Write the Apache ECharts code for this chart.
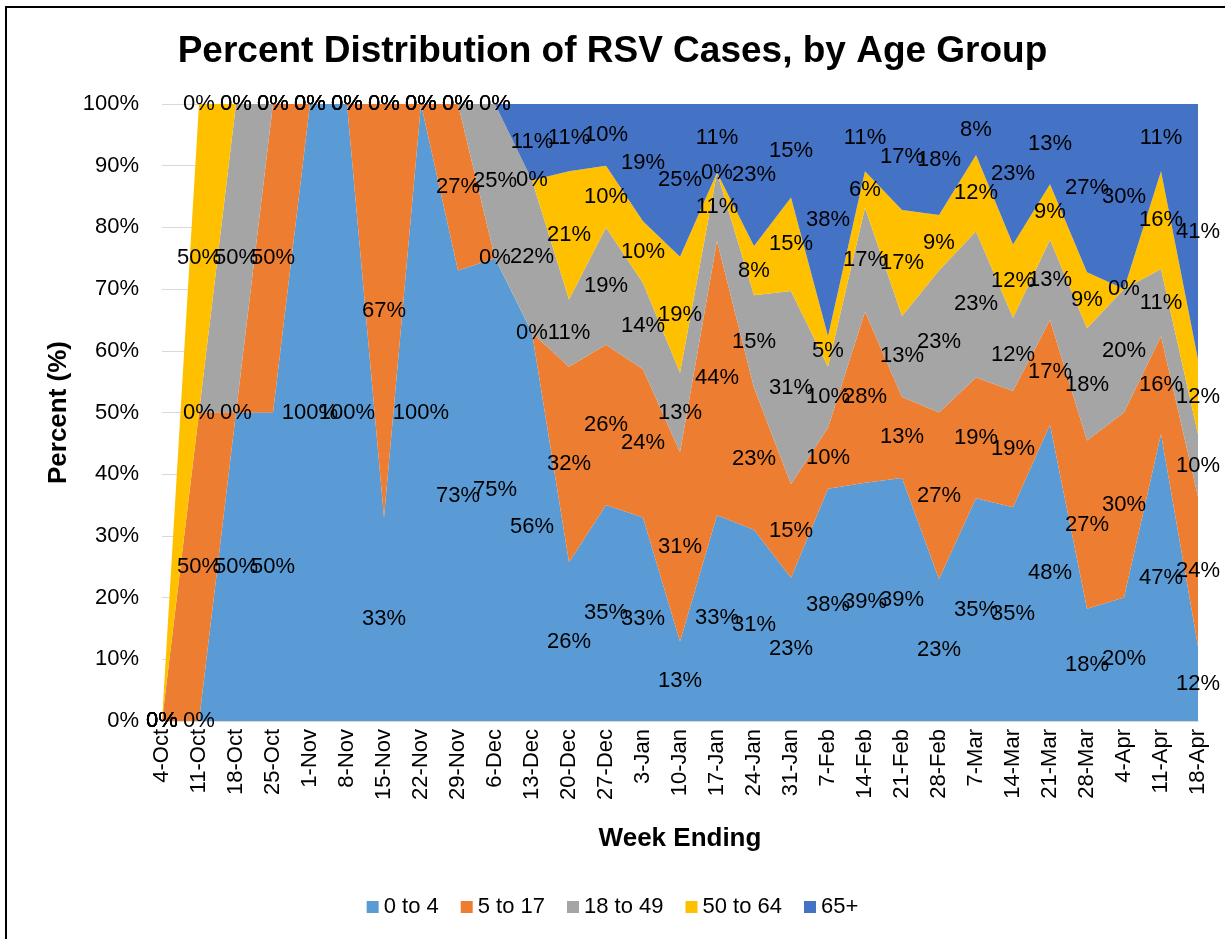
<!DOCTYPE html>
<html>
<head>
<meta charset="utf-8">
<script src="https://cdn.jsdelivr.net/npm/echarts@6/dist/echarts.min.js"></script>
<style>
html,body{margin:0;padding:0;background:#fff;}
#chart{width:1225px;height:939px;}
</style>
</head>
<body>
<div id="chart"></div>
<script>
// Week-ending categories
var categories = ['4-Oct','11-Oct','18-Oct','25-Oct','1-Nov','8-Nov','15-Nov','22-Nov','29-Nov','6-Dec','13-Dec','20-Dec','27-Dec','3-Jan','10-Jan','17-Jan','24-Jan','31-Jan','7-Feb','14-Feb','21-Feb','28-Feb','7-Mar','14-Mar','21-Mar','28-Mar','4-Apr','11-Apr','18-Apr'];

// Percent of cases per age group (as labelled)
var age0to4   = [0,0,50,50,100,100,33,100,73,75,56,26,35,33,13,33,31,23,38,39,39,23,35,35,48,18,20,47,12];
var age5to17  = [0,50,0,50,0,0,67,0,27,0,0,32,26,24,31,44,23,15,10,28,13,27,19,19,17,27,30,16,24];
var age18to49 = [0,0,50,0,0,0,0,0,0,25,22,11,19,14,13,11,15,31,10,17,13,23,23,12,13,18,20,11,10];
var age50to64 = [0,50,0,0,0,0,0,0,0,0,0,21,10,10,19,0,8,15,5,6,17,9,12,12,9,9,0,16,12];
var age65plus = [0,0,0,0,0,0,0,0,0,0,11,11,10,19,25,11,23,15,38,11,17,18,8,23,13,27,30,11,41];

var seriesNames = ['0 to 4','5 to 17','18 to 49','50 to 64','65+'];
var seriesColors = ['#5B9BD5','#ED7D31','#A5A5A5','#FFC000','#4472C4'];
var raw = [age0to4, age5to17, age18to49, age50to64, age65plus];

// 100% stacked: normalise each week's values to sum to 100
var norm = raw.map(function(){ return []; });
var mids = raw.map(function(){ return []; });
for (var i = 0; i < categories.length; i++) {
  var total = 0;
  for (var s = 0; s < raw.length; s++) total += raw[s][i];
  var cum = 0;
  for (var s2 = 0; s2 < raw.length; s2++) {
    var v = total > 0 ? raw[s2][i] / total * 100 : 0;
    norm[s2].push(v);
    mids[s2].push([i, cum + v / 2, raw[s2][i]]);
    cum += v;
  }
}

var FONT = "'Liberation Sans', Arial, sans-serif";
var series = [];
for (var k = 0; k < raw.length; k++) {
  series.push({
    name: seriesNames[k],
    type: 'line',
    stack: 'total',
    data: norm[k],
    symbol: 'none',
    showSymbol: false,
    lineStyle: { width: 0, color: seriesColors[k] },
    itemStyle: { color: seriesColors[k] },
    areaStyle: { color: seriesColors[k], opacity: 1 },
    emphasis: { disabled: true },
    z: 2
  });
}
for (var m = 0; m < raw.length; m++) {
  series.push({
    type: 'scatter',
    data: mids[m],
    symbolSize: 1,
    itemStyle: { color: 'rgba(0,0,0,0)' },
    silent: true,
    z: 5,
    label: {
      show: true,
      position: 'inside',
      color: '#000',
      opacity: 1,
      textBorderWidth: 0,
      fontFamily: FONT,
      fontSize: 22,
      formatter: function (p) { return p.data[2] + '%'; }
    }
  });
}

var chart = echarts.init(document.getElementById('chart'), null, { renderer: 'canvas' });
chart.setOption({
  backgroundColor: '#fff',
  animation: false,
  color: seriesColors,
  title: {
    text: 'Percent Distribution of RSV Cases, by Age Group',
    left: 'center',
    top: 28,
    textStyle: { fontFamily: FONT, fontSize: 37, fontWeight: 'bold', color: '#000' }
  },
  grid: { left: 162, right: 27, top: 104, bottom: 218, containLabel: false, outerBoundsMode: 'none' },
  legend: {
    data: seriesNames,
    bottom: 16,
    left: 'center',
    icon: 'rect',
    itemWidth: 12,
    itemHeight: 12,
    itemGap: 22,
    textStyle: { fontFamily: FONT, fontSize: 22, color: '#000' }
  },
  xAxis: {
    type: 'category',
    data: categories,
    boundaryGap: false,
    name: 'Week Ending',
    nameLocation: 'middle',
    nameGap: 105,
    nameTextStyle: { fontFamily: FONT, fontSize: 26, fontWeight: 'bold', color: '#000' },
    axisLine: { show: true, lineStyle: { color: '#d9d9d9', width: 1.5 } },
    axisTick: { show: false },
    splitLine: { show: false },
    axisLabel: { rotate: 90, interval: 0, margin: 8, fontFamily: FONT, fontSize: 22, color: '#000' }
  },
  yAxis: {
    type: 'value',
    min: 0,
    max: 100,
    interval: 10,
    name: 'Percent (%)',
    nameLocation: 'middle',
    nameGap: 90,
    nameTextStyle: { fontFamily: FONT, fontSize: 26, fontWeight: 'bold', color: '#000' },
    axisLine: { show: false },
    axisTick: { show: false },
    splitLine: { show: true, lineStyle: { color: '#d9d9d9', width: 1 } },
    axisLabel: { formatter: '{value}%', margin: 23, fontFamily: FONT, fontSize: 22, color: '#000' }
  },
  graphic: [{
    type: 'rect',
    shape: { x: 6, y: 7, width: 1240, height: 960 },
    style: { fill: 'none', stroke: '#000', lineWidth: 2 },
    silent: true,
    z: 100
  }],
  series: series
});
</script>
</body>
</html>
